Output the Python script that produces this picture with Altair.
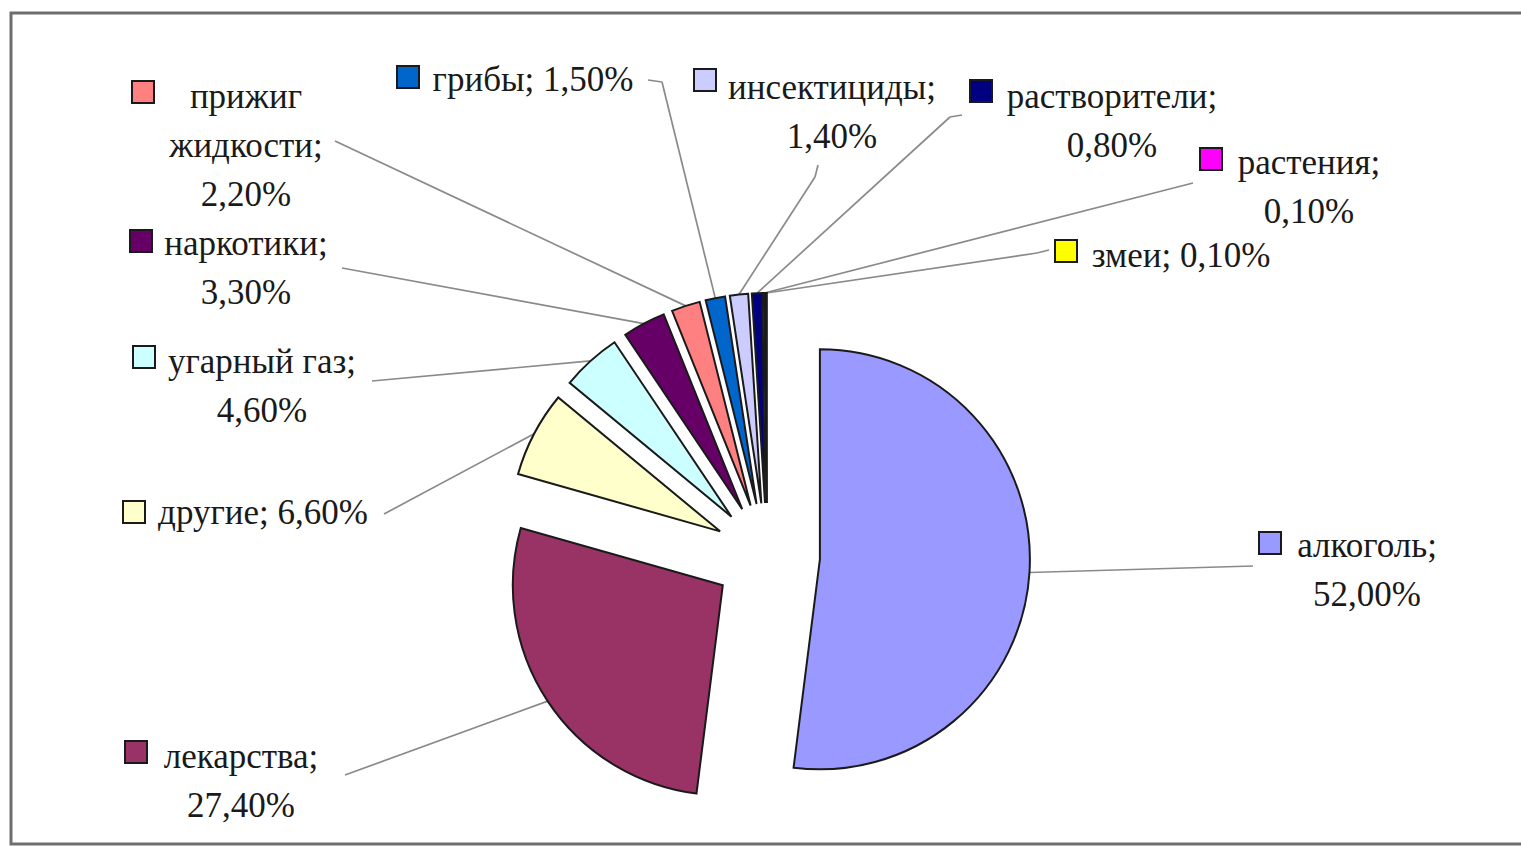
import altair as alt
import pandas as pd

# ---- data -------------------------------------------------------------
categories = ["алкоголь", "лекарства", "другие", "угарный газ", "наркотики",
              "прижиг жидкости", "грибы", "инсектициды", "растворители",
              "растения", "змеи"]
shares = [52.0, 27.4, 6.6, 4.6, 3.3, 2.2, 1.5, 1.4, 0.8, 0.1, 0.1]
colors = ["#9999FF", "#993366", "#FFFFCC", "#CCFFFF", "#660066", "#FF8080",
          "#0066CC", "#CCCCFF", "#000080", "#FF00FF", "#FFFF00"]

# label wording (name lines); the share is appended inline or as its own line
label_names = [["алкоголь;"], ["лекарства;"], ["другие;"], ["угарный газ;"],
               ["наркотики;"], ["прижиг", "жидкости;"], ["грибы;"],
               ["инсектициды;"], ["растворители;"], ["растения;"], ["змеи;"]]
share_inline = [False, False, True, False, False, False, True, False, False,
                False, True]

# ---- layout -----------------------------------------------------------
CX, CY = 767, 556          # pie centre (px)
RADIUS = 210               # slice radius (px)
EXPLODE = 53               # radial offset of every slice (px)
FONT = "Liberation Serif"
FONT_SIZE = 35
LINE_GAP = 49

label_cx = [1367, 241, 263, 262, 246, 246, 533, 832, 1112, 1309, 1181]
label_y = [546, 757, 513, 362, 244, 97, 80, 88, 97, 163, 256]
key_x = [1270, 136, 134, 144, 141, 143, 408, 705, 981, 1211, 1066]
key_y = [543, 752, 512, 357, 241, 92, 77, 80, 91, 159, 251]
elbow_x = [1253, 345, 384, 372, 342, 335, 662, 815, 950, 1193, 1037]
elbow_y = [566, 775, 514, 381, 268, 141, 82, 177, 117, 183, 253]
end_x = [1253, 345, 384, 372, 342, 335, 648, 818, 962, 1193, 1049]
end_y = [566, 775, 514, 381, 268, 141, 80, 165, 115, 183, 250]


def fmt_share(v):
    return f"{v:.2f}".replace(".", ",") + "%"


slices = pd.DataFrame({
    "idx": range(len(categories)),
    "category": categories,
    "share": shares,
    "color": colors,
    "elbow_x": elbow_x, "elbow_y": elbow_y,
    "end_x": end_x, "end_y": end_y,
    "key_x": key_x, "key_y": key_y,
})

rows = []
for i, (names, inline) in enumerate(zip(label_names, share_inline)):
    lines = list(names)
    if inline:
        lines[-1] = lines[-1] + " " + fmt_share(shares[i])
    else:
        lines.append(fmt_share(shares[i]))
    for j, line in enumerate(lines):
        rows.append({"text": line, "tx": label_cx[i], "ty": label_y[i] + j * LINE_GAP})
label_lines = pd.DataFrame(rows)

px = lambda f: alt.X(f, type="quantitative", scale=None)
py = lambda f: alt.Y(f, type="quantitative", scale=None)

geo = (
    alt.Chart(slices)
    .transform_joinaggregate(total="sum(share)")
    .transform_window(cum="sum(share)", sort=[alt.SortField("idx")], frame=[None, 0])
    .transform_calculate(
        t0="(datum.cum - datum.share) / datum.total * 2 * PI",
        t1="datum.cum / datum.total * 2 * PI",
    )
    .transform_calculate(mid="(datum.t0 + datum.t1) / 2")
    .transform_calculate(
        cx=f"{CX} + {EXPLODE} * sin(datum.mid)",
        cy=f"{CY} - {EXPLODE} * cos(datum.mid)",
    )
    .transform_calculate(
        ox=f"datum.cx + {RADIUS} * sin(datum.mid)",
        oy=f"datum.cy - {RADIUS} * cos(datum.mid)",
    )
)

pie = geo.mark_arc(radius=RADIUS, stroke="#1a1a1a", strokeWidth=2).encode(
    x=px("cx"),
    y=py("cy"),
    theta=alt.Theta("t0:Q", scale=None, stack=False),
    theta2="t1:Q",
    fill=alt.Fill("color:N", scale=None),
    order=alt.Order("idx:Q"),
)

leader_a = geo.mark_rule(color="#8a8a8a", strokeWidth=1.7).encode(
    x=px("ox"), y=py("oy"), x2="elbow_x:Q", y2="elbow_y:Q",
)
leader_b = alt.Chart(slices).mark_rule(color="#8a8a8a", strokeWidth=1.7).encode(
    x=px("elbow_x"), y=py("elbow_y"), x2="end_x:Q", y2="end_y:Q",
)

keys = alt.Chart(slices).mark_square(size=484, stroke="#1a1a1a", strokeWidth=2,
                                     opacity=1).encode(
    x=px("key_x"), y=py("key_y"),
    fill=alt.Fill("color:N", scale=None),
)

texts = alt.Chart(label_lines).mark_text(
    font=FONT, fontSize=FONT_SIZE, color="#1a1a1a", align="center", baseline="middle",
).encode(x=px("tx"), y=py("ty"), text="text:N")

frame = alt.Chart(pd.DataFrame({"k": [0]})).mark_rect(
    fill="transparent", stroke="#6e6e6e", strokeWidth=3,
).encode(x=alt.value(11), x2=alt.value(1540), y=alt.value(13), y2=alt.value(844))

chart = (
    alt.layer(frame, leader_a, leader_b, pie, keys, texts)
    .properties(width=1521, height=847, padding=0, autosize="none",
                background="white")
    .configure_view(stroke=None)
)

chart.save("out.html", embed_options={"renderer": "svg", "actions": False})
